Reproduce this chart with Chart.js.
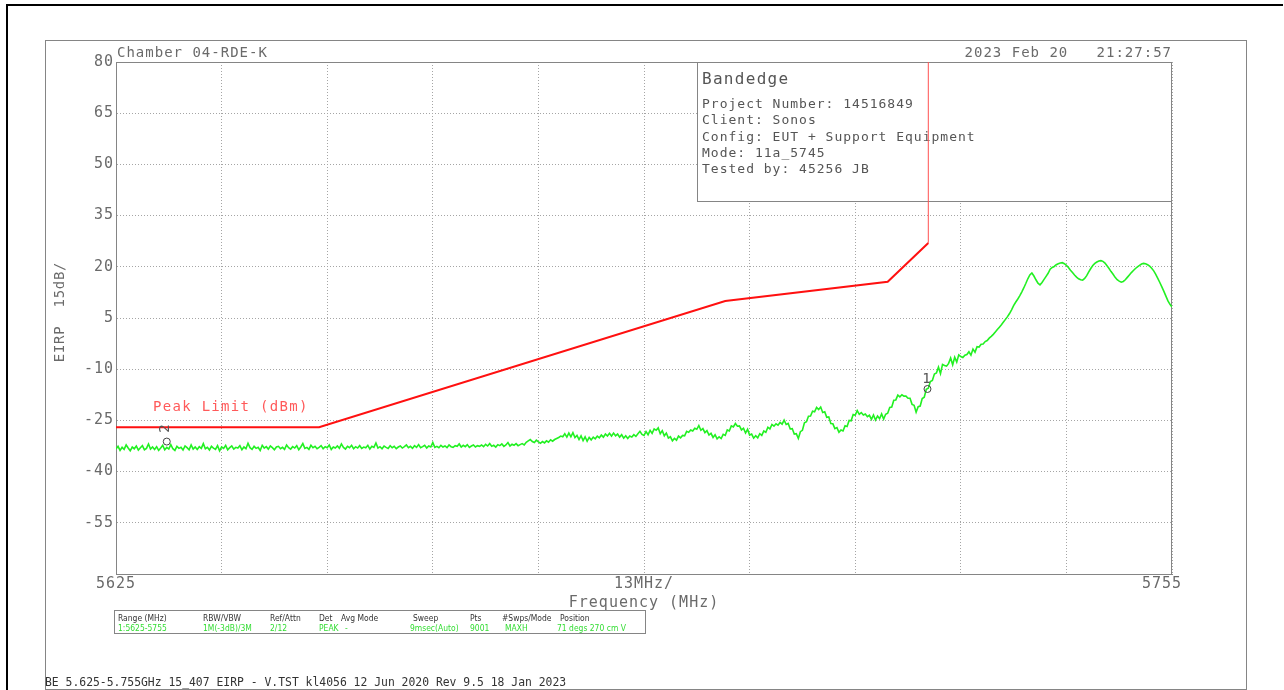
<!DOCTYPE html>
<html>
<head>
<meta charset="utf-8">
<title>Bandedge EIRP</title>
<script src="https://cdn.jsdelivr.net/npm/chart.js@4.4.1/dist/chart.umd.min.js"></script>
<style>
  html, body { margin: 0; padding: 0; background: #fff; }
  canvas { display: block; }
</style>
</head>
<body>
<canvas id="plot" width="1284" height="690"></canvas>
<script>
// Sweep: 5625-5755 MHz, one reading every 0.25 MHz (dBm EIRP, max hold)
const traceStart = 5625;
const traceStep = 0.25;
const traceLevel = [
  -33.4,-32.6,-33.8,-32.9,-33.5,-32.2,-33.1,-33.9,-32.8,-33.3,-32.5,-33.7,-33.0,-32.4,-33.6,-33.2,-31.9,-33.4,-32.8,-33.5,
  -32.7,-33.8,-33.1,-32.3,-33.6,-32.9,-33.4,-32.1,-33.3,-33.8,-32.6,-33.2,-32.9,-33.7,-32.5,-33.0,-33.6,-32.2,-33.4,-32.8,
  -33.5,-32.7,-33.2,-31.8,-33.3,-32.9,-33.7,-32.6,-33.1,-33.5,-32.4,-33.9,-32.8,-33.2,-32.3,-33.6,-33.0,-32.5,-33.4,-32.9,
  -33.1,-32.4,-33.6,-32.8,-33.3,-31.7,-33.0,-33.5,-32.6,-33.2,-32.9,-33.8,-32.3,-33.1,-32.7,-33.4,-32.5,-33.0,-33.6,-32.8,
  -32.6,-33.3,-32.9,-33.5,-32.2,-33.0,-33.4,-32.7,-33.1,-32.4,-33.6,-32.8,-31.8,-33.2,-32.9,-33.5,-32.3,-33.0,-32.6,-33.3,
  -32.9,-32.4,-33.3,-32.7,-33.0,-32.2,-33.5,-32.8,-33.1,-32.5,-33.2,-31.9,-32.9,-33.4,-32.6,-33.0,-32.3,-33.3,-32.7,-33.1,
  -32.4,-33.2,-32.8,-33.0,-32.3,-33.4,-32.6,-32.9,-31.6,-33.1,-32.7,-33.3,-32.5,-32.9,-33.2,-32.4,-33.0,-32.6,-33.3,-32.8,
  -32.5,-33.1,-32.7,-32.2,-33.0,-32.6,-33.2,-32.4,-32.9,-32.1,-33.0,-32.7,-32.3,-33.1,-32.5,-32.8,-31.5,-32.9,-32.6,-33.0,
  -32.3,-32.8,-32.5,-33.0,-32.2,-32.7,-32.9,-32.4,-32.6,-31.9,-32.8,-32.3,-32.7,-32.1,-32.9,-32.5,-32.2,-32.8,-32.4,-32.6,
  -32.2,-32.7,-32.0,-32.5,-31.8,-32.6,-32.3,-32.8,-32.1,-32.4,-31.9,-32.6,-32.2,-31.5,-32.5,-32.0,-32.3,-31.8,-32.4,-32.1,
  -31.8,-32.2,-31.4,-31.0,-30.6,-31.2,-31.5,-30.8,-31.3,-31.7,-31.2,-31.6,-31.0,-31.4,-30.7,-31.1,-30.6,-30.3,-30.0,-29.6,
  -29.8,-28.9,-29.9,-28.7,-29.8,-28.6,-30.0,-29.4,-30.6,-29.5,-30.9,-29.8,-31.1,-30.0,-30.7,-29.9,-30.4,-29.6,-30.1,-29.3,
  -29.9,-29.0,-29.6,-28.8,-29.6,-28.7,-29.5,-29.0,-29.9,-29.2,-30.2,-29.5,-30.3,-29.6,-29.9,-29.2,-29.7,-28.9,-28.2,-29.1,
  -29.4,-28.3,-29.2,-27.9,-28.8,-27.5,-27.9,-27.2,-28.9,-28.0,-29.5,-28.7,-30.2,-29.8,-31.0,-30.3,-30.8,-29.6,-30.1,-29.4,
  -29.5,-28.2,-28.5,-27.8,-28.1,-27.3,-27.6,-26.5,-27.9,-27.4,-28.6,-28.0,-29.3,-28.8,-30.0,-29.2,-30.4,-29.8,-30.3,-29.1,
  -29.4,-27.8,-28.1,-26.6,-26.9,-25.9,-26.7,-26.6,-27.8,-27.3,-28.7,-27.6,-29.3,-29.0,-30.2,-29.5,-30.1,-28.9,-29.4,-28.1,
  -28.5,-27.0,-27.5,-26.2,-26.7,-26.0,-26.4,-25.6,-26.1,-24.9,-26.2,-25.9,-27.5,-27.4,-29.0,-28.9,-30.3,-28.3,-27.9,-25.7,
  -25.4,-23.8,-23.7,-22.3,-22.5,-21.2,-21.8,-21.1,-22.7,-22.5,-24.1,-24.0,-25.9,-26.0,-27.4,-27.1,-28.5,-27.8,-28.1,-26.6,
  -26.8,-25.0,-25.1,-23.3,-23.5,-22.1,-23.2,-22.7,-23.4,-23.1,-23.9,-23.5,-24.7,-23.4,-24.9,-23.7,-24.5,-23.1,-24.6,-23.2,
  -22.9,-21.2,-21.1,-19.1,-19.0,-17.6,-18.1,-17.5,-17.9,-17.9,-18.5,-18.5,-20.3,-20.6,-22.6,-21.0,-20.8,-18.6,-18.2,-15.9,
  -15.6,-13.6,-13.3,-11.4,-11.1,-9.4,-11.3,-8.6,-8.9,-9.1,-8.3,-6.7,-8.7,-6.5,-7.9,-5.8,-6.3,-6.6,-5.9,-5.7,
  -4.9,-5.9,-4.1,-5.0,-3.4,-3.5,-2.7,-2.6,-1.9,-1.6,-0.9,-0.4,0.2,0.9,1.6,2.3,3.0,3.8,4.6,5.4,
  6.3,7.4,8.6,9.6,10.5,11.5,12.6,13.8,15.1,16.5,17.6,18.2,17.3,16.2,15.2,14.7,15.4,16.3,17.2,18.1,
  19.3,19.8,20.1,20.6,20.9,21.1,21.2,20.9,20.4,19.8,19.0,18.3,17.6,17.0,16.5,16.2,16.1,16.6,17.4,18.5,
  19.5,20.4,21.0,21.4,21.7,21.8,21.6,21.1,20.3,19.5,18.6,17.8,16.9,16.2,15.8,15.5,15.7,16.2,16.9,17.6,
  18.3,18.9,19.5,20.0,20.4,20.8,21.0,20.9,20.6,20.2,19.6,18.8,17.8,16.6,15.4,14.1,12.8,11.4,10.0,9.0,
  8.2
];

// 15.407 peak limit (dBm EIRP)
const limitFreq  = [5625, 5650, 5700, 5720, 5725, 5725];
const limitLevel = [-27, -27, 10, 15.6, 27, 80];

// Markers
const markerFreq  = [5724.9, 5631.25];
const markerLevel = [-15.8, -31.2];
const markerNames = ['1', '2'];

// Axis ranges and labels
const freqMin = 5625, freqMax = 5755, freqStep = 13;
const levelMin = -70, levelMax = 80, levelStep = 15;
const xLabelValues = [5625, 5690, 5755];
const xLabelTexts  = ['5625', '13MHz/', '5755'];

// Sheet texts
const headerLeft  = 'Chamber 04-RDE-K';
const headerRight = '2023 Feb 20   21:27:57';
const infoTitle = 'Bandedge';
const infoLines = [
  'Project Number: 14516849',
  'Client: Sonos',
  'Config: EUT + Support Equipment',
  'Mode: 11a_5745',
  'Tested by: 45256 JB'
];
const limitName = 'Peak Limit (dBm)';
const yTitle = 'EIRP  15dB/';
const xTitle = 'Frequency (MHz)';
const tableHeads  = ['Range (MHz)', 'RBW/VBW', 'Ref/Attn', 'Det', 'Avg Mode', 'Sweep', 'Pts', '#Swps/Mode', 'Position'];
const tableValues = ['1:5625-5755', '1M(-3dB)/3M', '2/12', 'PEAK', '-', '9msec(Auto)', '9001', 'MAXH', '71 degs 270 cm V'];
const footerText = 'BE 5.625-5.755GHz 15_407 EIRP - V.TST kl4056 12 Jun 2020 Rev 9.5 18 Jan 2023';

// ---- drawing ----
const MONO = '"DejaVu Sans Mono", "Liberation Mono", monospace';
const SANS = '"DejaVu Sans", "Liberation Sans", sans-serif';
const TEXT_GREY = '#6a6a6a';
const FRAME_GREY = '#858585';

function text(ctx, s, x, y, o = {}) {
  ctx.save();
  ctx.font = (o.size || 14) + 'px ' + (o.family || MONO);
  ctx.fillStyle = o.color || TEXT_GREY;
  ctx.textAlign = o.align || 'left';
  ctx.textBaseline = o.base || 'alphabetic';
  ctx.letterSpacing = (o.spacing || 0) + 'px';
  ctx.translate(x, y);
  if (o.rot) ctx.rotate(o.rot);
  if (o.sx) ctx.scale(o.sx, 1);
  ctx.fillText(s, 0, 0);
  ctx.restore();
}

const tableCols = [118, 203, 270, 319, 341, 413, 470, 502, 560];
const valueCols = [118, 203, 270, 319, 345, 410, 470, 505, 557];

const sheet = {
  id: 'sheet',
  beforeDraw(chart) {
    const ctx = chart.ctx;
    ctx.letterSpacing = '1px';
    ctx.save();
    ctx.fillStyle = '#fff';
    ctx.fillRect(0, 0, chart.width, chart.height);
    ctx.strokeStyle = '#000';
    ctx.lineWidth = 2;
    ctx.beginPath();
    ctx.moveTo(7, 690); ctx.lineTo(7, 5); ctx.lineTo(1283, 5);
    ctx.stroke();
    ctx.strokeStyle = FRAME_GREY;
    ctx.lineWidth = 1;
    ctx.strokeRect(45.5, 40.5, 1201, 649);
    ctx.restore();

    text(ctx, headerLeft, 117, 57, { size: 14, spacing: 1 });
    text(ctx, headerRight, 1172, 57, { size: 14, spacing: 1, align: 'right' });

    // settings table
    ctx.save();
    ctx.strokeStyle = FRAME_GREY;
    ctx.lineWidth = 1;
    ctx.strokeRect(114.5, 610.5, 531, 23);
    ctx.restore();
    tableHeads.forEach((h, i) => text(ctx, h, tableCols[i], 621, { size: 9.5, family: SANS, color: '#333', sx: 0.8 }));
    tableValues.forEach((v, i) => text(ctx, v, valueCols[i], 631, { size: 9.5, family: SANS, color: '#33dd33', sx: 0.8 }));

    text(ctx, footerText, 45, 685.5, { size: 11.4, color: '#333' });
  },
  beforeDatasetsDraw(chart) {
    const ctx = chart.ctx;
    const a = chart.chartArea;
    ctx.save();
    ctx.strokeStyle = FRAME_GREY;
    ctx.lineWidth = 1;
    ctx.strokeRect(a.left + 0.5, a.top + 0.5, a.right - a.left - 1, a.bottom - a.top);
    // info panel
    ctx.fillStyle = '#fff';
    ctx.fillRect(697, a.top, a.right - 697, 140);
    ctx.strokeRect(697.5, a.top + 0.5, a.right - 698, 139);
    ctx.restore();
    text(ctx, infoTitle, 702, 84, { size: 16, spacing: 1.3, color: '#555' });
    infoLines.forEach((l, i) => text(ctx, l, 702, 108 + i * 16.25, { size: 13, spacing: 1, color: '#555' }));
  },
  afterDatasetsDraw(chart) {
    const ctx = chart.ctx;
    const xs = chart.scales.x, ys = chart.scales.y;
    text(ctx, limitName, 153, 410.5, { size: 14, spacing: 1.3, color: '#ff5a5a' });
    text(ctx, yTitle, 60, 312, { size: 14, spacing: 0.7, align: 'center', base: 'middle', rot: -Math.PI / 2 });
    // marker labels
    const m1x = xs.getPixelForValue(markerFreq[0]), m1y = ys.getPixelForValue(markerLevel[0]);
    text(ctx, markerNames[0], m1x - 1, m1y - 6, { size: 14, color: '#555', align: 'center' });
    const m2x = xs.getPixelForValue(markerFreq[1]), m2y = ys.getPixelForValue(markerLevel[1]);
    text(ctx, markerNames[1], m2x - 1, m2y - 13, { size: 14, color: '#555', align: 'center', base: 'middle', rot: -Math.PI / 2 });
  }
};

const tracePoints = traceLevel.map((v, i) => ({ x: traceStart + i * traceStep, y: v }));
const limitPoints = limitFreq.map((f, i) => ({ x: f, y: limitLevel[i] }));
const markerPoints = markerFreq.map((f, i) => ({ x: f, y: markerLevel[i] }));

new Chart(document.getElementById('plot'), {
  type: 'line',
  data: {
    datasets: [
      {
        label: 'Markers',
        data: markerPoints,
        showLine: false,
        pointRadius: 3.5,
        pointStyle: 'circle',
        pointBorderColor: '#444',
        pointBackgroundColor: 'rgba(0,0,0,0)',
        pointBorderWidth: 1
      },
      {
        label: 'Trace 1',
        data: tracePoints,
        borderColor: '#22f022',
        borderWidth: 1.6,
        pointRadius: 0,
        tension: 0
      },
      {
        label: limitName,
        data: limitPoints,
        borderColor: '#ff1010',
        borderWidth: 2,
        pointRadius: 0,
        tension: 0,
        segment: {
          borderWidth: c => (c.p0.parsed.x === c.p1.parsed.x ? 1 : undefined),
          borderColor: c => (c.p0.parsed.x === c.p1.parsed.x ? '#ff5050' : undefined)
        }
      }
    ]
  },
  options: {
    responsive: false,
    animation: false,
    events: [],
    layout: { padding: { left: 0, top: 62, right: 112, bottom: 0 } },
    plugins: { legend: { display: false }, tooltip: { enabled: false } },
    scales: {
      x: {
        type: 'linear',
        min: freqMin,
        max: freqMax,
        afterFit(s) { s.height = 116; },
        grid: { color: '#a5a5a5', lineWidth: 1, drawTicks: false },
        border: { display: true, color: FRAME_GREY, width: 1, dash: [1, 2] },
        ticks: {
          stepSize: freqStep,
          autoSkip: false,
          maxRotation: 0,
          minRotation: 0,
          padding: 1,
          color: TEXT_GREY,
          font: { family: MONO, size: 15 },
          callback(v) {
            const k = xLabelValues.indexOf(v);
            if (k < 0) return '';
            return k === xLabelValues.length - 1 ? xLabelTexts[k] + '  ' : xLabelTexts[k];
          }
        },
        title: {
          display: true,
          text: xTitle,
          color: TEXT_GREY,
          font: { family: MONO, size: 15 },
          padding: { top: 0, bottom: 78 }
        }
      },
      y: {
        min: levelMin,
        max: levelMax,
        afterFit(s) { s.width = 116; },
        grid: { color: '#a5a5a5', lineWidth: 1, drawTicks: false },
        border: { display: true, color: FRAME_GREY, width: 1, dash: [1, 2] },
        ticks: {
          stepSize: levelStep,
          padding: 2,
          color: TEXT_GREY,
          font: { family: MONO, size: 15 },
          callback(v) { return v === levelMin ? '' : String(v); }
        }
      }
    }
  },
  plugins: [sheet]
});
</script>
</body>
</html>
